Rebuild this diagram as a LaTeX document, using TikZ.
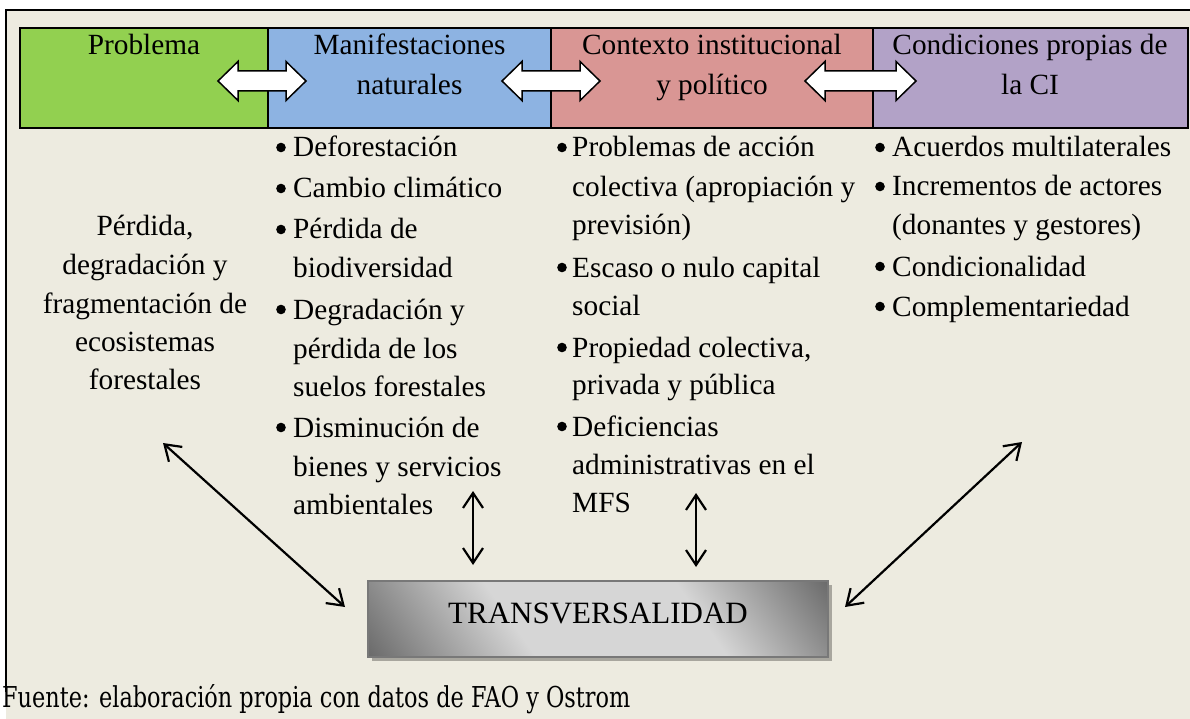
\documentclass[tikz,border=0pt]{standalone}
\usepackage{fontspec}
\usepackage{graphicx}
\setmainfont{Liberation Serif}
\newfontfamily\footfont{DejaVu Serif}
\usetikzlibrary{arrows.meta,shadows}
\definecolor{bgc}{RGB}{237,235,224}
\definecolor{cgreen}{RGB}{146,208,80}
\definecolor{cblue}{RGB}{141,179,226}
\definecolor{cred}{RGB}{217,150,148}
\definecolor{cpurple}{RGB}{178,162,199}
\definecolor{tvdark}{RGB}{100,100,100}
\definecolor{tvlight}{RGB}{214,214,214}
\definecolor{tvborder}{RGB}{120,120,120}
\definecolor{shadowc}{RGB}{168,166,158}
\pgfdeclarehorizontalshading{tvshade}{100bp}{color(0bp)=(tvdark); color(14bp)=(tvdark); color(38bp)=(tvlight); color(64bp)=(tvlight); color(86bp)=(tvdark); color(100bp)=(tvdark)}
\newcommand\bodyline[4]{\node[body] (#1) at (#2,#3) {#4};}
\newcommand\bulletat[2]{\fill[black] (#1,{#2-9.5}) circle (4.8pt);}
\newcommand\blockarrow[2]{\draw[blockarr] (#1,81) -- ({#1+20},61.5) -- ({#1+20},71) -- ({#2-20},71) -- ({#2-20},61.5) -- (#2,81) -- ({#2-20},100.5) -- ({#2-20},91) -- ({#1+20},91) -- ({#1+20},100.5) -- cycle;}
\begin{document}
\begin{tikzpicture}[x=1pt,y=-1pt,
  hdrbox/.style={draw=black, line width=2pt, inner sep=0pt, minimum height=100pt},
  hdrtxt/.style={font=\fontsize{29.3}{38}\selectfont, inner sep=0pt, anchor=base},
  body/.style={font=\fontsize{29.3}{38}\selectfont, inner sep=0pt, anchor=base west},
  ctr/.style={font=\fontsize{29.3}{38}\selectfont, inner sep=0pt, anchor=base},
  blockarr/.style={draw=black, line width=1.5pt, fill=white, line join=miter},
  link/.style={line width=2.2pt, {Straight Barb[length=15pt,width=20pt]}-{Straight Barb[length=15pt,width=20pt]}},
]
\useasboundingbox (0,0) rectangle (1190,719);
\fill[white] (0,0) rectangle (1190,719);
\fill[bgc] (6,10) rectangle (1190,719);
\draw[line width=2pt] (6,692) -- (6,10) -- (1190,10);

% header
\node[hdrbox, fill=cgreen, minimum width=248pt] (hp) at (144,78) {};
\node[hdrbox, fill=cblue, minimum width=283pt] (hm) at (409.5,78) {};
\node[hdrbox, fill=cred, minimum width=322pt] (hc) at (712,78) {};
\node[hdrbox, fill=cpurple, minimum width=315pt] (hi) at (1030.5,78) {};

\node[hdrtxt] (tp) at (144,55) {Problema};
\node[hdrtxt] (tm1) at (409.5,55) {Manifestaciones};
\node[hdrtxt] (tm2) at (409.5,95) {naturales};
\node[hdrtxt] (tc1) at (712,55) {Contexto institucional};
\node[hdrtxt] (tc2) at (712,95) {y político};
\node[hdrtxt] (ti1) at (1030,55) {Condiciones propias de};
\node[hdrtxt] (ti2) at (1030,95) {la CI};

\blockarrow{218}{306}
\blockarrow{502}{600}
\blockarrow{805}{916}

% column 1
\node[ctr] (c1a) at (145,236) {Pérdida,};
\node[ctr] (c1b) at (145,274) {degradación y};
\node[ctr] (c1c) at (145,313) {fragmentación de};
\node[ctr] (c1d) at (145,351) {ecosistemas};
\node[ctr] (c1e) at (145,389) {forestales};

% column 2
\bodyline{c2a}{293}{157}{Deforestación}
\bodyline{c2b}{293}{198}{Cambio climático}
\bodyline{c2c}{293}{239}{Pérdida de}
\bodyline{c2d}{293}{277}{biodiversidad}
\bodyline{c2e}{293}{319}{Degradación y}
\bodyline{c2f}{293}{358}{pérdida de los}
\bodyline{c2g}{293}{396}{suelos forestales}
\bodyline{c2h}{293}{437}{Disminución de}
\bodyline{c2i}{293}{476}{bienes y servicios}
\bodyline{c2j}{293}{514}{ambientales}
\bulletat{281}{157}
\bulletat{281}{198}
\bulletat{281}{239}
\bulletat{281}{319}
\bulletat{281}{437}

% column 3
\bodyline{c3a}{572}{157}{Problemas de acción}
\bodyline{c3b}{572}{197}{colectiva (apropiación y}
\bodyline{c3c}{572}{235}{previsión)}
\bodyline{c3d}{572}{277}{Escaso o nulo capital}
\bodyline{c3e}{572}{315}{social}
\bodyline{c3f}{572}{357}{Propiedad colectiva,}
\bodyline{c3g}{572}{394}{privada y pública}
\bodyline{c3h}{572}{436}{Deficiencias}
\bodyline{c3i}{572}{474}{administrativas en el}
\bodyline{c3j}{572}{512}{MFS}
\bulletat{562}{157}
\bulletat{562}{277}
\bulletat{562}{357}
\bulletat{562}{436}

% column 4
\bodyline{c4a}{892}{157}{Acuerdos multilaterales}
\bodyline{c4b}{892}{196}{Incrementos de actores}
\bodyline{c4c}{892}{235}{(donantes y gestores)}
\bodyline{c4d}{892}{276}{Condicionalidad}
\bodyline{c4e}{892}{316}{Complementariedad}
\bulletat{880}{157}
\bulletat{880}{196}
\bulletat{880}{276}
\bulletat{880}{316}

% transversalidad
\node[draw=tvborder, line width=1.5pt, shading=tvshade, shading angle=35,
      minimum width=460pt, minimum height=76pt, inner sep=0pt,
      drop shadow={shadow xshift=4pt, shadow yshift=-4pt, fill=shadowc, opacity=1}] (tv) at (598,619) {};
\node[font=\fontsize{31}{36}\selectfont, inner sep=0pt, anchor=base] (tvt) at (598,623) {TRANSVERSALIDAD};

% connectors
\coordinate (la) at (163,443);
\coordinate (lb) at (345,607);
\coordinate (va) at (473,491);
\coordinate (vb) at (473,565);
\coordinate (wa) at (696,493);
\coordinate (wb) at (696,567);
\coordinate (ra) at (1022,442);
\coordinate (rb) at (845,607);
\draw[link] (la) -- (lb);
\draw[link] (va) -- (vb);
\draw[link] (wa) -- (wb);
\draw[link] (ra) -- (rb);

% footer
\node[inner sep=0pt, anchor=base west] (src) at (2,707) {\footfont\resizebox{628pt}{23pt}{Fuente: elaboración propia con datos de FAO y Ostrom}};
\end{tikzpicture}
\end{document}
